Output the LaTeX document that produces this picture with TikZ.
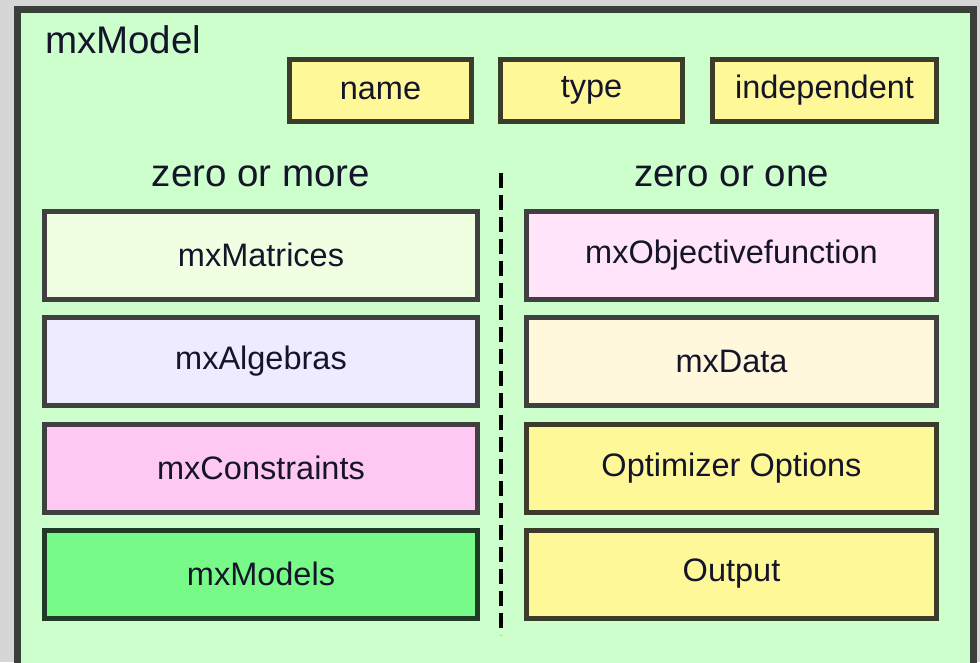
\documentclass[tikz,border=0pt]{standalone}
\usepackage{fontspec}
\setmainfont{Liberation Sans}
\definecolor{bgray}{HTML}{D6D6D6}
\definecolor{outerfill}{HTML}{CCFFCC}
\definecolor{outerline}{HTML}{3A3F3A}
\definecolor{boxline}{HTML}{404040}
\definecolor{yelline}{HTML}{3C3C2C}
\definecolor{grline}{HTML}{1F3A26}
\definecolor{yel}{HTML}{FFF899}
\definecolor{cMat}{HTML}{F0FFE2}
\definecolor{cAlg}{HTML}{EEEBFF}
\definecolor{cCon}{HTML}{FFC8F2}
\definecolor{cMod}{HTML}{78FA88}
\definecolor{cObj}{HTML}{FFE4FA}
\definecolor{cDat}{HTML}{FFF8DC}
\definecolor{txt}{HTML}{15152A}
\begin{document}
\begin{tikzpicture}[x=1pt,y=-1pt,
  attr/.style={draw=yelline, line width=5pt, fill=yel, minimum height=62pt, inner sep=0pt,
    font=\fontsize{32.5}{38}\selectfont, text=txt},
  comp/.style={draw=boxline, line width=5pt, minimum height=88pt, inner sep=0pt,
    font=\fontsize{32.5}{38}\selectfont, text=txt},
  lcomp/.style={comp, minimum width=433pt},
  rcomp/.style={comp, minimum width=410pt},
  head/.style={font=\fontsize{38.5}{45}\selectfont, text=txt, inner sep=0pt}]
\useasboundingbox (0,0) rectangle (980,662);
\fill[bgray] (0,0) rectangle (980,662);
\draw[outerline, line width=7pt, fill=outerfill] (17.5,9) rectangle (973.5,672);
\node[head, anchor=base west] (title) at (45,53) {mxModel};
\node[attr, minimum width=182pt] (name) at (380.5,90.5) {name};
\node[attr, minimum width=182pt] (type) at (591.5,90.5) {type};
\node[attr, minimum width=224pt] (indep) at (824.5,90.5) {independent};
\node[head, anchor=base] (zmore) at (261,186) {zero or more};
\node[head, anchor=base] (zone) at (731.5,186) {zero or one};
\node[lcomp, fill=cMat] (mat) at (261,255) {mxMatrices};
\node[lcomp, fill=cAlg] (alg) at (261,361) {mxAlgebras};
\node[lcomp, fill=cCon] (con) at (261,468) {mxConstraints};
\node[lcomp, fill=cMod, draw=grline] (mod) at (261,574) {mxModels};
\node[rcomp, fill=cObj] (obj) at (731.5,255) {mxObjectivefunction};
\node[rcomp, fill=cDat] (dat) at (731.5,361) {mxData};
\node[rcomp, fill=yel, draw=yelline] (opt) at (731.5,468) {Optimizer Options};
\node[rcomp, fill=yel, draw=yelline] (out) at (731.5,574) {Output};
\coordinate (dtop) at (501,173);
\coordinate (dbot) at (501,635);
\draw[black, line width=4pt, dash pattern=on 15pt off 7pt] (dtop) -- (dbot);
\end{tikzpicture}
\end{document}
